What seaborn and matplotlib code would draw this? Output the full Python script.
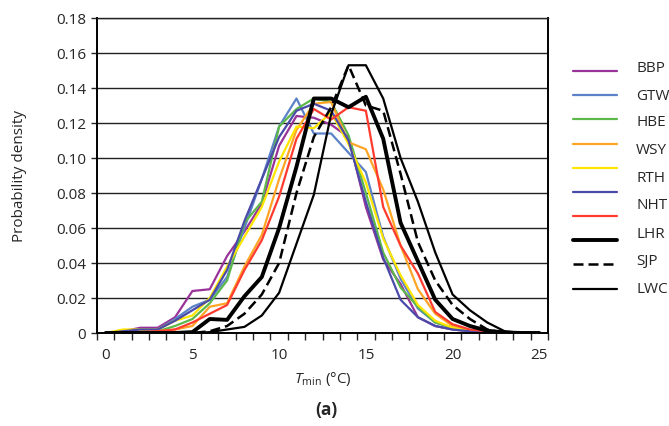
import numpy as np
import pandas as pd
import matplotlib
matplotlib.use("Agg")
import matplotlib.pyplot as plt
import seaborn as sns

sns.set_style("white")
plt.rcParams['font.family'] = ['Open Sans', 'DejaVu Sans']
plt.rcParams['mathtext.fontset'] = 'custom'
plt.rcParams['mathtext.it'] = 'Open Sans:italic'
plt.rcParams['mathtext.rm'] = 'Open Sans'

# Tmin classes (deg C)
tmin = np.arange(26)

bbp = [0, 0.001, 0.003, 0.003, 0.009, 0.024, 0.025, 0.044, 0.058, 0.074, 0.107, 0.124, 0.123,
       0.119, 0.112, 0.072, 0.042, 0.028, 0.009, 0.004, 0.002, 0.001, 0, 0, 0, 0]
gtw = [0, 0.001, 0.002, 0.002, 0.008, 0.015, 0.019, 0.032, 0.060, 0.088, 0.118, 0.134, 0.114,
       0.114, 0.103, 0.092, 0.055, 0.031, 0.014, 0.006, 0.003, 0.001, 0, 0, 0, 0]
hbe = [0, 0.001, 0.002, 0.001, 0.004, 0.008, 0.017, 0.030, 0.063, 0.075, 0.118, 0.128, 0.134,
       0.132, 0.113, 0.080, 0.046, 0.026, 0.015, 0.006, 0.003, 0.001, 0, 0, 0, 0]
wsy = [0, 0.001, 0.001, 0.001, 0.002, 0.004, 0.015, 0.017, 0.038, 0.056, 0.088, 0.116, 0.131,
       0.132, 0.109, 0.105, 0.082, 0.050, 0.025, 0.011, 0.004, 0.001, 0, 0, 0, 0]
yellow = [0, 0.002, 0.002, 0.002, 0.007, 0.010, 0.020, 0.038, 0.055, 0.072, 0.098, 0.118, 0.117,
          0.126, 0.108, 0.086, 0.054, 0.033, 0.016, 0.007, 0.003, 0.001, 0, 0, 0, 0]
darkblue = [0, 0.001, 0.002, 0.002, 0.007, 0.013, 0.019, 0.036, 0.064, 0.088, 0.112, 0.127, 0.131,
            0.127, 0.110, 0.075, 0.043, 0.019, 0.009, 0.004, 0.002, 0.001, 0, 0, 0, 0]
red = [0, 0, 0.0005, 0.001, 0.002, 0.006, 0.011, 0.016, 0.036, 0.053, 0.078, 0.111, 0.128,
       0.122, 0.129, 0.127, 0.072, 0.050, 0.034, 0.012, 0.005, 0.002, 0.001, 0, 0, 0]
lhr = [0, 0, 0, 0, 0, 0.0005, 0.008, 0.0075, 0.021, 0.032, 0.060, 0.095, 0.134, 0.134, 0.129,
       0.135, 0.111, 0.063, 0.041, 0.019, 0.008, 0.004, 0.0013, 0.0003, 0, 0]
sjp = [0, 0, 0, 0, 0, 0, 0.001, 0.004, 0.011, 0.022, 0.040, 0.080, 0.112, 0.129, 0.153, 0.130,
       0.127, 0.091, 0.052, 0.030, 0.016, 0.008, 0.002, 0, 0, 0]
lwc = [0, 0, 0, 0, 0, 0, 0.0005, 0.002, 0.0035, 0.010, 0.023, 0.051, 0.079, 0.125, 0.153, 0.153,
       0.134, 0.100, 0.075, 0.046, 0.022, 0.013, 0.006, 0.001, 0, 0]

legend_names = ['BBP', 'GTW', 'HBE', 'WSY', 'RTH', 'NHT', 'LHR', 'SJP', 'LWC']

series = [
    ('BBP', bbp, '#993399', 1.6, '-'),
    ('GTW', gtw, '#5b82c8', 1.6, '-'),
    ('HBE', hbe, '#5cb84a', 1.6, '-'),
    ('WSY', wsy, '#ffa526', 1.6, '-'),
    ('yellow', yellow, '#ffe600', 1.6, '-'),
    ('darkblue', darkblue, '#4a4aa8', 1.6, '-'),
    ('red', red, '#ff3b2f', 1.6, '-'),
    ('LHR', lhr, 'black', 2.8, '-'),
    ('SJP', sjp, 'black', 1.8, (0, (4, 2))),
    ('LWC', lwc, 'black', 1.6, '-'),
]

fig = plt.figure(figsize=(6.69, 4.27), dpi=100)
ax = fig.add_axes([97 / 669, 1 - 334 / 427, 451 / 669, 315 / 427])

for name, vals, col, lw, ls in series:
    df = pd.DataFrame({'tmin': tmin, 'density': vals})
    sns.lineplot(data=df, x='tmin', y='density', color=col, lw=lw, ax=ax)
    ax.lines[-1].set_linestyle(ls)

ax.set_xlim(-0.5, 25.5)
ax.set_ylim(0, 0.18)
ax.set_yticks(np.arange(0, 0.181, 0.02))
ax.set_yticklabels(['0'] + ['%.2f' % v for v in np.arange(0.02, 0.181, 0.02)])
ax.set_xticks(np.arange(0, 26, 5))
ax.set_xticks(np.arange(-0.5, 25.6, 1), minor=True)
ax.tick_params(axis='x', which='major', length=0, pad=10, labelsize=11)
ax.tick_params(axis='x', which='minor', length=5, width=1, direction='out', bottom=True)
ax.tick_params(axis='y', which='major', length=4, width=1, direction='out', left=True,
               labelsize=11, pad=4)
ax.yaxis.grid(True, color='#222222', lw=1.0)
ax.set_axisbelow(True)
for s in ['left', 'bottom', 'right']:
    ax.spines[s].set_visible(True)
    ax.spines[s].set_color('black')
    ax.spines[s].set_linewidth(1.4)
ax.spines['top'].set_visible(True)
ax.spines['top'].set_color('#222222')
ax.spines['top'].set_linewidth(1.0)

ax.set_xlabel(r'$T_{\mathrm{min}}$ (°C)', fontsize=11, labelpad=5)
ax.set_ylabel('Probability density', fontsize=11, labelpad=21)
fig.text(326 / 669, 1 - 410 / 427, '(a)', fontsize=12.5, fontweight='bold', ha='center', va='center')

leg = ax.legend(handles=list(ax.lines), labels=[' '] * len(ax.lines), loc='upper left',
                bbox_to_anchor=(573 / 669, 1 - 66 / 427), bbox_transform=fig.transFigure,
                frameon=False, borderpad=0, borderaxespad=0, handlelength=3.2,
                handletextpad=0.2, labelspacing=0.66, fontsize=10)

label_y = [68, 96, 123, 151, 179, 206, 234, 262, 290]
for name, yy in zip(legend_names, label_y):
    fig.text(636 / 669, 1 - yy / 427, name, fontsize=11, va='center', ha='left')

fig.savefig('out.png', dpi=100)
